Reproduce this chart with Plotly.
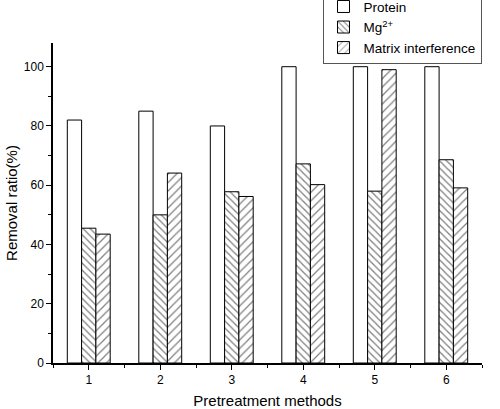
import plotly.graph_objects as go

categories = [1, 2, 3, 4, 5, 6]
protein = [82, 85, 80, 100, 100, 100]
mg = [45.5, 50, 57.8, 67.2, 58, 68.6]
matrix = [43.5, 64.1, 56.2, 60.2, 99, 59.1]

FONT = "Liberation Sans, Arial, sans-serif"

fig = go.Figure()
fig.add_trace(go.Bar(
    x=categories, y=protein, name="Protein",
    marker=dict(color="white", line=dict(color="black", width=1)),
))
fig.add_trace(go.Bar(
    x=categories, y=mg, name="Mg<sup>2+</sup>",
    marker=dict(color="white", line=dict(color="black", width=1),
                pattern=dict(shape="\\", fgcolor="black", bgcolor="white", size=5, solidity=0.25)),
))
fig.add_trace(go.Bar(
    x=categories, y=matrix, name="Matrix interference",
    marker=dict(color="white", line=dict(color="black", width=1),
                pattern=dict(shape="/", fgcolor="black", bgcolor="white", size=6, solidity=0.2)),
))

fig.update_layout(
    width=500, height=409,
    margin=dict(l=53, r=18, t=43, b=46, autoexpand=False),
    paper_bgcolor="white", plot_bgcolor="white",
    font=dict(family=FONT, size=12, color="black"),
    barmode="group", bargap=0.4, bargroupgap=0,
    showlegend=True,
    legend=dict(
        xref="container", yref="paper",
        x=0.645, y=1.165, xanchor="left", yanchor="top",
        bordercolor="#555", borderwidth=1, bgcolor="white",
        font=dict(family=FONT, size=13.5, color="black"),
        tracegroupgap=0,
    ),
)
fig.update_xaxes(
    range=[0.5, 6.5], tickmode="array", tickvals=categories,
    ticktext=[str(c) for c in categories],
    showline=True, linecolor="black", linewidth=1.5,
    ticks="outside", ticklen=5, tickwidth=1.2, tickcolor="black",
    minor=dict(ticks="outside", ticklen=3, tickwidth=1.2, tickcolor="black", dtick=0.5, tick0=0.5),
    showgrid=False, zeroline=False,
    title=dict(text="Pretreatment methods", font=dict(family=FONT, size=15), standoff=10),
    tickfont=dict(family=FONT, size=12),
)
fig.update_yaxes(
    range=[0, 108], tickmode="linear", tick0=0, dtick=20,
    showline=True, linecolor="black", linewidth=1.5,
    ticks="outside", ticklen=5, tickwidth=1.2, tickcolor="black",
    minor=dict(ticks="outside", ticklen=3, tickwidth=1.2, tickcolor="black", dtick=10),
    showgrid=False, zeroline=False,
    title=dict(text="Removal ratio(%)", font=dict(family=FONT, size=15), standoff=3),
    tickfont=dict(family=FONT, size=12),
)

fig.write_html("out.html", config={"displayModeBar": False},
               post_script="document.body.style.margin='0';")
